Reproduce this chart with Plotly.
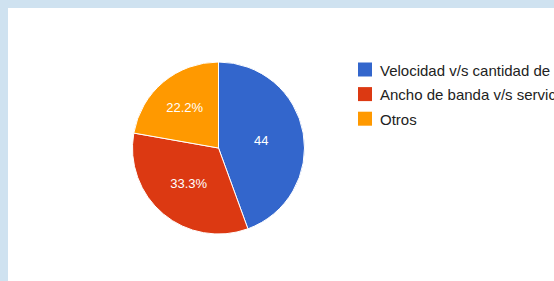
import plotly.graph_objects as go

# Data
labels = ["Velocidad v/s cantidad de usuarios", "Ancho de banda v/s servicios", "Otros"]
values = [4, 3, 2]
slice_text = ["44", "33.3%", "22.2%"]
colors = ["#3366cc", "#dc3912", "#ff9900"]

W, H = 554, 281
FONT = "Arial, Liberation Sans, sans-serif"

def px_x(x):
    return x / W

def px_y(y):
    return 1 - y / H

fig = go.Figure()
fig.add_trace(go.Pie(
    labels=labels,
    values=values,
    text=slice_text,
    textinfo="text",
    textposition="inside",
    insidetextorientation="horizontal",
    sort=False,
    direction="clockwise",
    rotation=0,
    marker=dict(colors=colors, line=dict(color="white", width=1)),
    textfont=dict(color="white", size=13, family=FONT),
    domain=dict(x=[px_x(132), px_x(305)], y=[px_y(234), px_y(62)]),
    showlegend=False,
    hoverinfo="label+percent",
))

shapes = [
    dict(type="rect", xref="paper", yref="paper", layer="below",
         x0=px_x(8), x1=1.0, y0=0, y1=px_y(8),
         fillcolor="white", line=dict(width=0)),
]
annotations = []
for i, (lab, col) in enumerate(zip(labels, colors)):
    cy = 69.5 + i * 24.6
    shapes.append(dict(type="rect", xref="paper", yref="paper",
                       x0=px_x(358), x1=px_x(372), y0=px_y(cy + 7), y1=px_y(cy - 7),
                       fillcolor=col, line=dict(width=0)))
    annotations.append(dict(xref="paper", yref="paper", x=px_x(378), y=px_y(cy + 0.5),
                            xanchor="left", yanchor="middle", showarrow=False,
                            text=lab, font=dict(size=15, color="#222222", family=FONT)))

fig.update_layout(
    width=W, height=H,
    margin=dict(l=0, r=0, t=0, b=0),
    paper_bgcolor="#cfe2f0",
    plot_bgcolor="white",
    shapes=shapes,
    annotations=annotations,
    showlegend=False,
)

fig.write_html("out.html",
               config={"displayModeBar": False},
               post_script="document.body.style.margin='0';document.body.style.overflow='hidden';")
